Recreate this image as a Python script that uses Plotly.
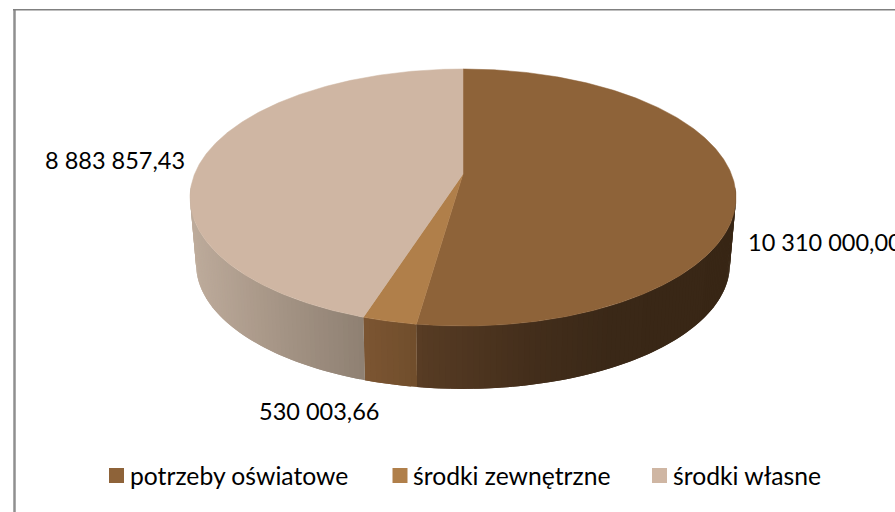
import math
import plotly.graph_objects as go

categories = ["potrzeby oświatowe", "środki zewnętrzne", "środki własne"]
values = [10310000.00, 530003.66, 8883857.43]
top_colors = ["#8E6339", "#B07F4A", "#CFB6A3"]
# wall shading stops: (pixel x, colour)
wall_stops = [
    [(417, (88, 60, 36)), (530, (67, 46, 27)), (610, (58, 40, 23)), (736, (56, 38, 21))],
    [(363, (124, 86, 50)), (417, (112, 77, 44))],
    [(190, (190, 172, 156)), (280, (165, 148, 133)), (366, (142, 128, 114))],
]

FONT = "Lato"
TXT = "#000000"


def proj(theta, A, k, a, b, cx=463.0):
    s, c = math.sin(theta), math.cos(theta)
    d = 1 + k * c
    return cx + A * s / d, (a * c + b) / d


def top(theta):
    return proj(theta, 268.4, 0.1829, -92.4, 174.0)


def bottom(theta):
    return proj(theta, 262.0, 0.19, -74.2, 240.8)


def shade(stops, x):
    if x <= stops[0][0]:
        return stops[0][1]
    for (x0, c0), (x1, c1) in zip(stops, stops[1:]):
        if x <= x1:
            t = (x - x0) / (x1 - x0)
            return tuple(c0[i] + (c1[i] - c0[i]) * t for i in range(3))
    return stops[-1][1]


def fmt(v):
    whole, frac = f"{v:.2f}".split(".")
    parts = []
    while whole:
        parts.insert(0, whole[-3:])
        whole = whole[:-3]
    return " ".join(parts) + "," + frac


total = sum(values)
edges = [0.0]
for v in values:
    edges.append(edges[-1] + v / total * 2 * math.pi)

fig = go.Figure()

# side walls: overlapping shaded bands, only the visible front part
VIS0, VIS1 = math.radians(96), math.radians(264)
for i in range(3):
    a0, a1 = max(edges[i], VIS0), min(edges[i + 1], VIS1)
    if a1 <= a0:
        continue
    n = max(2, int((a1 - a0) / math.radians(1.0)))
    step = (a1 - a0) / n
    for j in range(n):
        t0 = a0 + step * j
        t1 = min(a1, t0 + 2 * step)
        tm = t0 + step
        p = [top(t0), top(tm), top(t1), bottom(t1), bottom(tm), bottom(t0), top(t0)]
        mx = (top(t0)[0] + top(tm)[0] + bottom(t0)[0] + bottom(tm)[0]) / 4
        r, g, b = shade(wall_stops[i], mx)
        col = f"rgb({r:.0f},{g:.0f},{b:.0f})"
        fig.add_trace(go.Scatter(x=[q[0] for q in p], y=[q[1] for q in p], mode="lines",
                                 fill="toself", fillcolor=col, line=dict(width=0),
                                 hoverinfo="skip", showlegend=False))

# top faces
for i in range(3):
    n = max(2, int((edges[i + 1] - edges[i]) / math.radians(0.5)))
    center = proj(0.0, 0.0, 0.0, 0.0, 174.0)
    pts = [center] + [top(edges[i] + (edges[i + 1] - edges[i]) * j / n) for j in range(n + 1)] + [center]
    fig.add_trace(go.Scatter(x=[q[0] for q in pts], y=[q[1] for q in pts], mode="lines",
                             fill="toself", fillcolor=top_colors[i],
                             line=dict(color=top_colors[i], width=0.5),
                             name=categories[i], hoverinfo="skip", showlegend=False))

# legend swatches
swatch_x = [116.5, 400, 659.5]
text_x = [130, 413, 673]
LEG_Y = 475.5
for i in range(3):
    fig.add_trace(go.Scatter(x=[swatch_x[i]], y=[LEG_Y], mode="markers",
                             marker=dict(symbol="square", size=15, color=top_colors[i], line=dict(width=0)),
                             hoverinfo="skip", showlegend=False))
    fig.add_annotation(x=text_x[i], y=LEG_Y, xref="x", yref="y", text=categories[i], showarrow=False,
                       xanchor="left", yanchor="middle", xshift=-2,
                       font=dict(family=FONT, size=24.7, color=TXT))

# data labels
label_pos = [(749, 242), (260, 411), (46, 160)]
for i in range(3):
    fig.add_annotation(x=label_pos[i][0], y=label_pos[i][1], xref="x", yref="y", text=fmt(values[i]),
                       showarrow=False, xanchor="left", yanchor="middle", xshift=-3,
                       font=dict(family=FONT, size=23.5, color=TXT))

fig.update_layout(
    width=895, height=512, margin=dict(l=0, r=0, t=0, b=0),
    paper_bgcolor="white", plot_bgcolor="white", showlegend=False,
    xaxis=dict(range=[0, 895], visible=False, fixedrange=True),
    yaxis=dict(range=[512, 0], visible=False, fixedrange=True),
    shapes=[
        dict(type="line", xref="x", yref="y", x0=14.5, x1=14.5, y0=9, y1=512,
             line=dict(color="#8f8f8f", width=2.5)),
        dict(type="line", xref="x", yref="y", x0=13, x1=895, y0=9.8, y1=9.8,
             line=dict(color="#808080", width=1.5)),
    ],
)
fig.write_html("out.html", config=dict(displayModeBar=False),
               post_script="document.body.style.margin='0';document.documentElement.style.overflow='hidden';")
